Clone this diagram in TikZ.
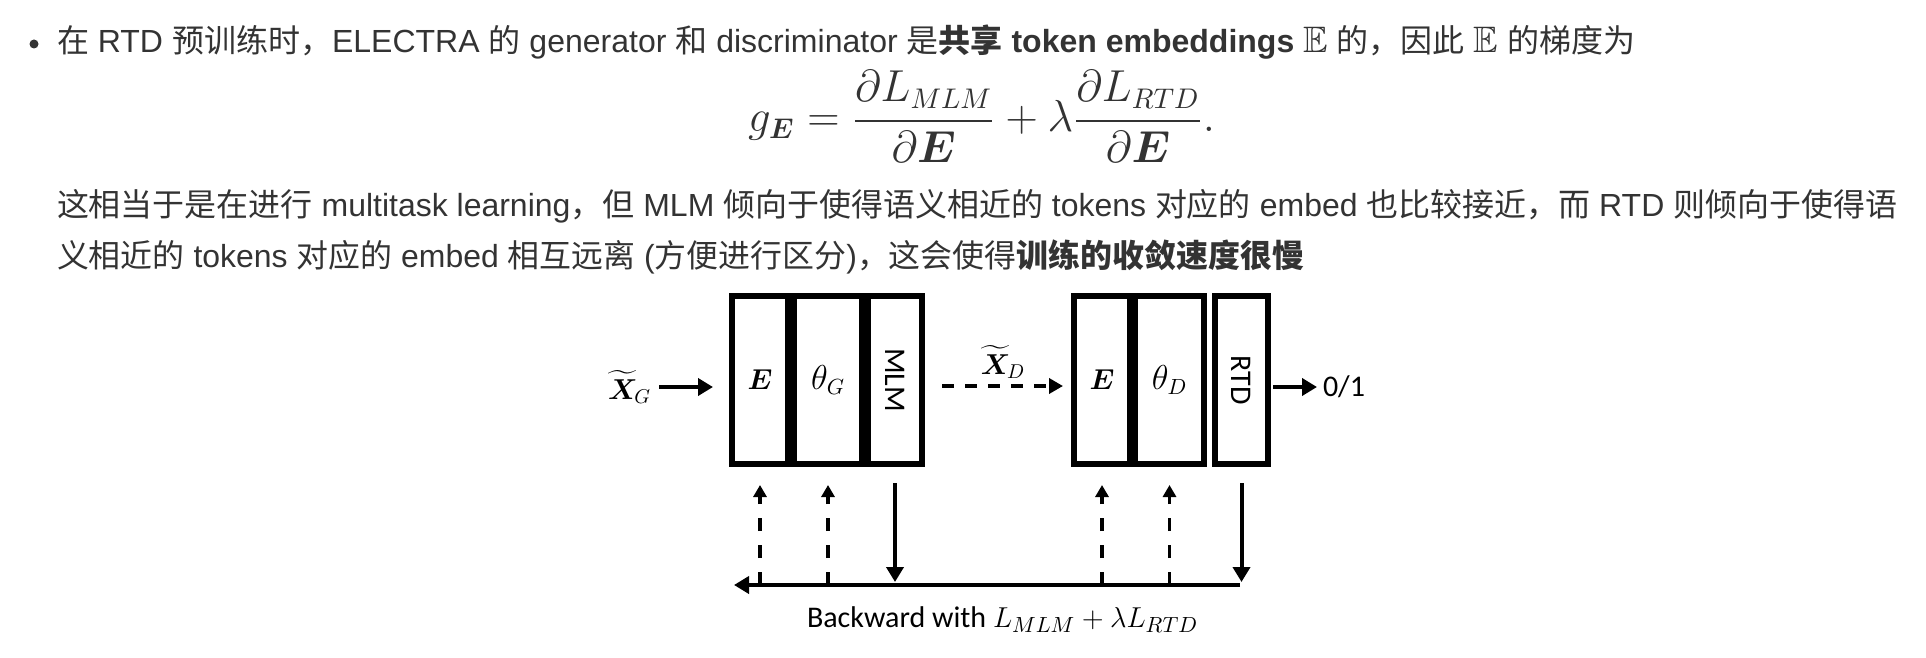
\documentclass[tikz,border=0pt]{standalone}
\usepackage{amsmath,amssymb}
\usepackage{graphicx}
\usepackage{fontspec}
\setmainfont{Liberation Sans}
\newfontfamily\cjk{Noto Sans CJK SC}
\newfontfamily\calfont{Carlito}
\usetikzlibrary{arrows.meta}
\definecolor{txt}{HTML}{333333}
\newcommand\zh[1]{{\cjk #1}}
\newcommand\bbE{\scalebox{1.15}{$\mathbb{E}$}}
\begin{document}
\begin{tikzpicture}[x=0.5pt,y=-0.5pt,
  para/.style={anchor=base west,inner sep=0pt,outer sep=0pt,text=txt,font=\fontsize{16}{19}\selectfont},
  layer/.style={draw=black,line width=3pt,inner sep=0pt,outer sep=0pt,minimum height=84pt,font=\fontsize{14}{16}\selectfont},
  lbl/.style={inner sep=0pt,outer sep=0pt,font=\fontsize{14}{16}\selectfont},
  cal/.style={inner sep=0pt,outer sep=0pt,font=\fontsize{15}{18}\selectfont\calfont},
  fwd/.style={line width=2pt,-{Triangle[length=7.5pt,width=8.5pt]}},
  fwddash/.style={line width=2pt,dash pattern=on 6pt off 5.5pt,-{Triangle[length=7pt,width=7.5pt]}},
  back/.style={line width=1.6pt,dash pattern=on 6.5pt off 7pt,-{Triangle[length=6pt,width=6.5pt]}}
]
\useasboundingbox (0,0) rectangle (1926,658);

% paragraph text
\node[circle,fill=txt,inner sep=0pt,minimum size=4.5pt] (bullet) at (34,44) {};
\node[para] (l1) at (57,53) {\resizebox{789pt}{!}{\zh{在} RTD \zh{预训练时，}ELECTRA \zh{的} generator \zh{和} discriminator \zh{是}\textbf{\zh{共享} token embeddings} \bbE{} \zh{的，因此} \bbE{} \zh{的梯度为}}};
\node[para] (fm) at (748,132) {\resizebox{233.5pt}{!}{$\displaystyle g_{\boldsymbol{E}} = \frac{\partial L_{MLM}}{\partial \boldsymbol{E}} + \lambda\frac{\partial L_{RTD}}{\partial \boldsymbol{E}}.$}};
\node[para] (l2) at (57,216) {\resizebox{920pt}{!}{\zh{这相当于是在进行} multitask learning\zh{，但} MLM \zh{倾向于使得语义相近的} tokens \zh{对应的} embed \zh{也比较接近，而} RTD \zh{则倾向于使得语}}};
\node[para] (l3) at (57,267) {\resizebox{623.5pt}{!}{\zh{义相近的} tokens \zh{对应的} embed \zh{相互远离} (\zh{方便进行区分})\zh{，这会使得}\textbf{\zh{训练的收敛速度很慢}}}};

% generator
\node[layer,minimum width=28pt] (gE) at (760,380) {$\boldsymbol{E}$};
\node[layer,minimum width=34pt,font=\fontsize{16}{18}\selectfont] (gT) at (828,380) {$\theta_G$};
\node[layer,minimum width=27pt,font=\fontsize{15}{18}\selectfont\calfont] (gM) at (895,380) {\rotatebox{-90}{MLM}};
% discriminator
\node[layer,minimum width=28pt] (dE) at (1102,380) {$\boldsymbol{E}$};
\node[layer,minimum width=34.5pt,font=\fontsize{16}{18}\selectfont] (dT) at (1169.5,380) {$\theta_D$};
\node[layer,minimum width=26.5pt,font=\fontsize{15}{18}\selectfont\calfont] (dR) at (1241.5,380) {\rotatebox{-90}{RTD}};

% inputs / outputs
\node[lbl,anchor=east] (xg) at (651,387) {$\widetilde{\boldsymbol{X}}_{\!G}$};
\node[lbl] (xd) at (1003,362) {$\widetilde{\boldsymbol{X}}_{\!D}$};
\node[cal,anchor=west] (o1) at (1323,387) {0/1};

\draw[fwd,shorten <=4pt,shorten >=9.5pt] (xg.east) -- (xg.east -| gE.west);
\draw[fwddash,shorten <=10pt,shorten >=5.5pt] ([yshift=-3pt]gM.east) -- ([yshift=-3pt]dE.west);
\draw[fwd,shorten <=2.5pt,shorten >=3pt] (dR.east |- o1.west) -- (o1.west);

% backward
\coordinate (bl) at (734,585);
\coordinate (br) at (1240,585);
\draw[line width=2pt,-{Triangle[length=7.5pt,width=8.5pt]}] (br) -- (bl);
\draw[fwd,shorten >=1.5pt] ([yshift=-9.5pt]gM.south) -- (gM.south |- bl);
\draw[fwd,shorten >=1.5pt] ([yshift=-9.5pt]dR.south) -- (dR.south |- bl);
\draw[back] (gE.south |- bl) -- ([yshift=-10.5pt]gE.south);
\draw[back] (gT.south |- bl) -- ([yshift=-10.5pt]gT.south);
\draw[back] (dE.south |- bl) -- ([yshift=-10.5pt]dE.south);
\draw[back] (dT.south |- bl) -- ([yshift=-10.5pt]dT.south);

\node[cal,anchor=base west] (bw) at (807,627) {Backward with $L_{MLM}+\lambda L_{RTD}$};
\end{tikzpicture}
\end{document}
